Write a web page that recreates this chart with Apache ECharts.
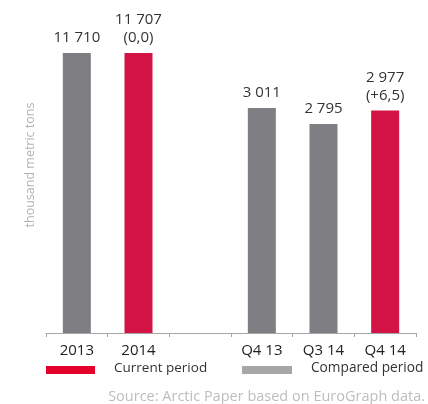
<!DOCTYPE html>
<html>
<head>
<meta charset="utf-8">
<script src="https://cdn.jsdelivr.net/npm/echarts@6/dist/echarts.min.js"></script>
<style>
  html, body { margin: 0; padding: 0; background: #fff; }
  #chart { width: 428px; height: 404px; }
</style>
</head>
<body>
<div id="chart"></div>
<script>
var categories = ['2013', '2014', '', 'Q4 13', 'Q3 14', 'Q4 14'];
// annual volumes (left scale) and quarterly volumes (right scale), thousand metric tons
var annualValues = [11710, 11707, null, null, null, null];
var quarterValues = [null, null, null, 3011, 2795, 2977];
var changeLabels = [null, '0,0', null, null, null, '+6,5'];
var isCurrent = [false, true, false, false, false, true];

var GREY = '#7f7f83';
var RED = '#d31245';
var FONT = '"Open Sans", Lato, sans-serif';

function fmtNum(n) {
  return String(n).replace(/\B(?=(\d{3})+(?!\d))/g, ' ');
}

function barData(vals) {
  return vals.map(function (v, i) {
    if (v == null) return null;
    return { value: v, itemStyle: { color: isCurrent[i] ? RED : GREY } };
  });
}

var label = {
  show: true, position: 'top', distance: 6,
  color: '#333', fontSize: 15, fontFamily: FONT, lineHeight: 18,
  formatter: function (p) {
    var s = fmtNum(p.value);
    if (changeLabels[p.dataIndex]) s += '\n(' + changeLabels[p.dataIndex] + ')';
    return s;
  }
};

var chart = echarts.init(document.getElementById('chart'), null, { renderer: 'canvas' });
chart.setOption({
  animation: false,
  grid: { left: 46, right: 12, top: 34, bottom: 71 },
  xAxis: {
    type: 'category', data: categories,
    axisLine: { lineStyle: { color: '#a6a6a6', width: 1 } },
    axisTick: { show: true, length: 4, lineStyle: { color: '#a6a6a6' } },
    axisLabel: { color: '#222', fontSize: 15, fontFamily: FONT, margin: 10 }
  },
  yAxis: [
    { type: 'value', min: 0, max: 12500, show: false },
    { type: 'value', min: 0, max: 4000, show: false }
  ],
  series: [
    { type: 'bar', yAxisIndex: 0, data: barData(annualValues), barWidth: 28, barGap: '-100%', label: label },
    { type: 'bar', yAxisIndex: 1, data: barData(quarterValues), barWidth: 28, barGap: '-100%', label: label }
  ],
  graphic: [
    { type: 'text', x: 30, y: 165, rotation: Math.PI / 2,
      style: { text: 'thousand metric tons', fill: '#b3b3b3', fontSize: 12.5, fontFamily: FONT,
        align: 'center', verticalAlign: 'middle' } },
    { type: 'rect', shape: { x: 46, y: 366, width: 49, height: 8 }, style: { fill: '#e4002b' } },
    { type: 'text', x: 114, y: 368, style: { text: 'Current period', fill: '#333', fontSize: 13.5,
        fontFamily: FONT, verticalAlign: 'middle' } },
    { type: 'rect', shape: { x: 242, y: 366, width: 50, height: 8 }, style: { fill: '#a6a6a6' } },
    { type: 'text', x: 311, y: 368, style: { text: 'Compared period', fill: '#333', fontSize: 13.7,
        fontFamily: FONT, verticalAlign: 'middle' } },
    { type: 'text', x: 425, y: 397, style: { text: 'Source: Arctic Paper based on EuroGraph data.',
        fill: '#bdbdbd', fontSize: 14.5, fontFamily: FONT, align: 'right', verticalAlign: 'middle' } }
  ]
});
</script>
</body>
</html>
